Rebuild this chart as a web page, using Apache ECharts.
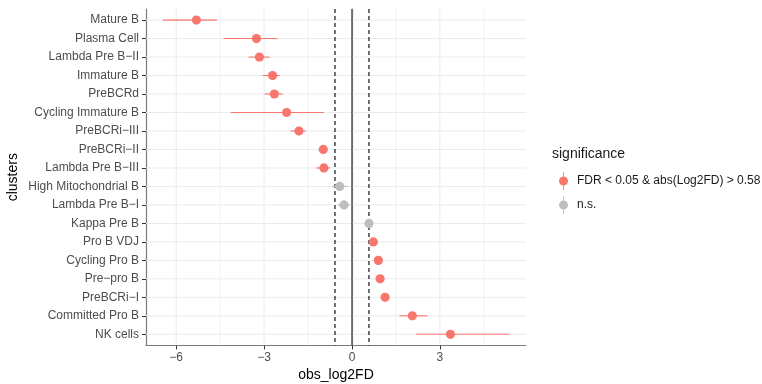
<!DOCTYPE html>
<html lang="en">
<head>
    <meta charset="UTF-8">
    <title>clusters obs_log2FD</title>
    <script src="https://cdn.jsdelivr.net/npm/echarts@6/dist/echarts.min.js"></script>
</head>
<style type="text/css">
    html,body,#chart{
        width: 762px;
        height: 384px;
        margin: 0;
        padding: 0;
        background: #fff;
    }
</style>
<body>
<div id="chart"></div>
<script>
    // data
    var clusters = ['Mature B', 'Plasma Cell', 'Lambda Pre B\u2212II', 'Immature B', 'PreBCRd',
        'Cycling Immature B', 'PreBCRi\u2212III', 'PreBCRi\u2212II', 'Lambda Pre B\u2212III',
        'High Mitochondrial B', 'Lambda Pre B\u2212I', 'Kappa Pre B', 'Pro B VDJ', 'Cycling Pro B',
        'Pre\u2212pro B', 'PreBCRi\u2212I', 'Committed Pro B', 'NK cells'];
    var obsLog2FD = [-5.31, -3.26, -3.16, -2.71, -2.65, -2.23, -1.81, -0.98, -0.96,
        -0.42, -0.27, 0.58, 0.73, 0.90, 0.96, 1.13, 2.06, 3.36];
    var lowerCI = [-6.45, -4.38, -3.53, -3.05, -2.98, -4.14, -2.10, -1.06, -1.22,
        -0.68, -0.48, 0.50, 0.65, 0.82, 0.88, 1.04, 1.62, 2.18];
    var upperCI = [-4.61, -2.55, -2.81, -2.47, -2.36, -0.96, -1.57, -0.90, -0.74,
        -0.14, -0.08, 0.66, 0.81, 0.98, 1.04, 1.22, 2.58, 5.37];
    var significant = [true, true, true, true, true, true, true, true, true,
        false, false, false, true, true, true, true, true, true];
    var groupNames = ['FDR < 0.05 & abs(Log2FD) > 0.58', 'n.s.'];
    var xTicks = [-6, -3, 0, 3];
    var xMinor = [-4.5, -1.5, 1.5, 4.5];
    var fcCutoff = 0.58;

    var colors = ['#F8766D', '#BEBEBE'];

    function minus(v){
        return String(v).replace('-', '\u2212');
    }

    var groups = [[], []];
    for(var i=0;i<clusters.length;i++){
        groups[significant[i] ? 0 : 1].push([obsLog2FD[i], i, lowerCI[i], upperCI[i]]);
    }

    function vLine(width, color, dash){
        return function(params, api){
            var cs = params.coordSys;
            var x = api.coord([api.value(0), 0])[0];
            return {
                type: 'line',
                shape: {x1: x, y1: cs.y, x2: x, y2: cs.y + cs.height},
                style: {stroke: color, lineWidth: width, lineDash: dash || null}
            };
        };
    }

    function pointRange(color){
        return function(params, api){
            var y = api.value(1);
            var c = api.coord([api.value(0), y]);
            var lo = api.coord([api.value(2), y]);
            var hi = api.coord([api.value(3), y]);
            return {
                type: 'group',
                children: [{
                    type: 'line',
                    shape: {x1: lo[0], y1: lo[1], x2: hi[0], y2: hi[1]},
                    style: {stroke: color, lineWidth: 1.1}
                }, {
                    type: 'circle',
                    shape: {cx: c[0], cy: c[1], r: 4.6},
                    style: {fill: color}
                }]
            };
        };
    }

    var rowIdx = [];
    for(var k=0;k<clusters.length;k++){ rowIdx.push([0, k]); }

    var keyIcon = 'path://M4.1,0 L4.9,0 L4.9,18 L4.1,18 Z M0,9 A4.5,4.5 0 1 1 9,9 A4.5,4.5 0 1 1 0,9 Z';

    var myChart = echarts.init(document.getElementById('chart'), null, {renderer: 'canvas'});
    var options = {
        animation: false,
        textStyle: {fontFamily: 'Liberation Sans, Arial, sans-serif'},
        grid: {left: 146, right: 236, top: 9, bottom: 38.6, outerBoundsMode: 'none'},
        title: {
            text: 'significance',
            left: 547,
            top: 142,
            textStyle: {fontSize: 14, fontWeight: 'normal', color: '#1a1a1a'}
        },
        legend: {
            orient: 'vertical',
            left: 554,
            top: 167,
            itemWidth: 9,
            itemHeight: 18,
            itemGap: 6,
            data: [
                {name: groupNames[0], icon: keyIcon},
                {name: groupNames[1], icon: keyIcon}
            ],
            textStyle: {fontSize: 12, color: '#1a1a1a', padding: [0, 0, 0, 4]}
        },
        xAxis: {
            type: 'value',
            min: -7.03,
            max: 5.94,
            name: 'obs_log2FD',
            nameLocation: 'middle',
            nameGap: 20,
            nameTextStyle: {fontSize: 14, color: '#000'},
            splitLine: {show: false},
            axisLine: {show: true, onZero: false, lineStyle: {color: '#7a7a7a', width: 1.2}},
            axisTick: {show: true, length: 4, customValues: xTicks, lineStyle: {color: '#333'}},
            axisLabel: {
                customValues: xTicks,
                fontSize: 12,
                color: '#4D4D4D',
                margin: 6,
                formatter: function(v){ return minus(v); }
            }
        },
        yAxis: [{
            type: 'value',
            inverse: true,
            min: -0.6,
            max: 17.6,
            name: 'clusters',
            nameLocation: 'middle',
            nameGap: 126,
            nameRotate: 90,
            nameTextStyle: {fontSize: 14, color: '#000'},
            splitLine: {show: false},
            axisLine: {show: true, onZero: false, lineStyle: {color: '#7a7a7a', width: 1.2}},
            axisTick: {show: true, length: 4, customValues: clusters.map(function(c, i){ return i; }), lineStyle: {color: '#333'}},
            axisLabel: {
                customValues: clusters.map(function(c, i){ return i; }),
                fontSize: 12,
                color: '#4D4D4D',
                margin: 7,
                formatter: function(v){ return clusters[Math.round(v)]; }
            }
        }, {
            type: 'value',
            position: 'right',
            min: 0,
            max: 1,
            splitLine: {show: false},
            axisTick: {show: false},
            axisLabel: {show: false},
            axisLine: {show: true, lineStyle: {color: '#7a7a7a', width: 1.2}}
        }],
        series: [{
            type: 'custom',
            silent: true,
            z: 1,
            renderItem: vLine(0.7, '#EDEDED'),
            encode: {x: 0},
            data: xMinor.map(function(v){ return [v]; })
        }, {
            type: 'custom',
            silent: true,
            z: 1,
            renderItem: vLine(1, '#EBEBEB'),
            encode: {x: 0},
            data: xTicks.map(function(v){ return [v]; })
        }, {
            type: 'custom',
            silent: true,
            z: 1,
            renderItem: function(params, api){
                var cs = params.coordSys;
                var y = api.coord([0, api.value(1)])[1];
                return {
                    type: 'line',
                    shape: {x1: cs.x, y1: y, x2: cs.x + cs.width, y2: y},
                    style: {stroke: '#EBEBEB', lineWidth: 1}
                };
            },
            encode: {x: 0, y: 1},
            data: rowIdx
        }, {
            type: 'custom',
            silent: true,
            z: 2,
            renderItem: vLine(1.1, '#000', [4, 3]),
            encode: {x: 0},
            data: [[-fcCutoff], [fcCutoff]]
        }, {
            type: 'custom',
            silent: true,
            z: 2,
            renderItem: vLine(1.2, '#3a3a3a'),
            encode: {x: 0},
            data: [[0]]
        }, {
            name: groupNames[0],
            type: 'custom',
            z: 3,
            itemStyle: {color: colors[0]},
            renderItem: pointRange(colors[0]),
            encode: {x: [0, 2, 3], y: 1},
            data: groups[0]
        }, {
            name: groupNames[1],
            type: 'custom',
            z: 3,
            itemStyle: {color: colors[1]},
            renderItem: pointRange(colors[1]),
            encode: {x: [0, 2, 3], y: 1},
            data: groups[1]
        }]
    };
    myChart.setOption(options);
</script>
</body>
</html>
